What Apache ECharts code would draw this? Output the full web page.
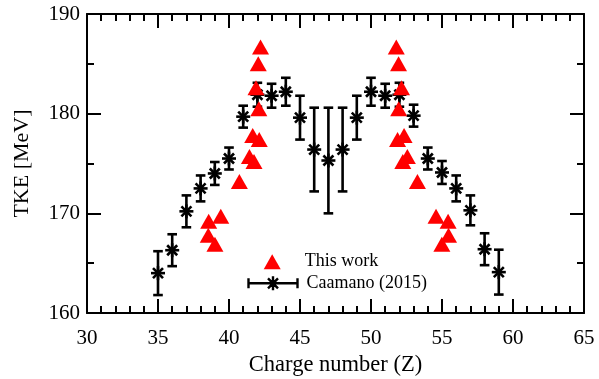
<!DOCTYPE html>
<html><head><meta charset="utf-8">
<script src="https://cdn.jsdelivr.net/npm/echarts@6/dist/echarts.min.js"></script>
<style>html,body{margin:0;padding:0;background:#fff}#c{width:599px;height:379px}</style>
</head><body><div id="c"></div>
<script>
// Caamano (2015) data: charge number, TKE and error
const caamanoZ   = [35, 36, 37, 38, 39, 40, 41, 42, 43, 44, 45, 46, 47, 48, 49, 50, 51, 52, 53, 54, 55, 56, 57, 58, 59];
const caamanoTKE = [164.0, 166.3, 170.2, 172.5, 174.0, 175.5, 179.7, 181.9, 181.8, 182.2, 179.6, 176.4, 175.3, 176.4, 179.6, 182.2, 181.8, 181.9, 179.8, 175.5, 174.1, 172.5, 170.3, 166.4, 164.1];
const caamanoErr = [2.2, 1.6, 1.6, 1.3, 1.15, 1.1, 1.1, 1.2, 1.2, 1.4, 2.2, 4.2, 5.3, 4.2, 2.2, 1.4, 1.2, 1.2, 1.1, 1.1, 1.15, 1.3, 1.5, 1.6, 2.25];

// This work
const thisWorkZ   = [42.22, 42.06, 41.9, 42.1, 41.67, 42.13, 41.44, 41.76, 40.73, 39.42, 38.57, 38.54, 39.01,
                     51.78, 51.94, 52.15, 51.95, 52.33, 51.87, 52.56, 52.24, 53.27, 54.58, 55.43, 55.46, 54.99];
const thisWorkTKE = [186.7, 185.0, 182.6, 180.5, 177.8, 177.4, 175.7, 175.2, 173.2, 169.7, 169.2, 167.8, 166.9,
                     186.7, 185.0, 182.6, 180.5, 177.8, 177.4, 175.7, 175.2, 173.2, 169.7, 169.2, 167.8, 166.9];

const seriesNames = ['This work', 'Caamano (2015)'];
const axisTitles = ['Charge number (Z)', 'TKE [MeV]'];

const FONT = '"Liberation Serif", "Times New Roman", serif';
const chart = echarts.init(document.getElementById('c'), null, {renderer: 'canvas'});

const legendStar = 'path://M0,7 L49,7 M0,2 L0,12 M49,2 L49,12 M24.5,0 L24.5,14 M17.5,7 L31.5,7 M19.5,2 L29.5,12 M29.5,2 L19.5,12';

function axisBase(extra) {
  return Object.assign({
    axisLine: {show: true, onZero: false, lineStyle: {color: '#000', width: 2}},
    axisTick: {show: true, inside: true, length: 14, lineStyle: {color: '#000', width: 2}},
    splitLine: {show: false},
    minorSplitLine: {show: false}
  }, extra);
}

const option = {
  animation: false,
  backgroundColor: '#fff',
  grid: {left: 87, right: 15, top: 14, bottom: 66, containLabel: false, outerBoundsMode: 'none'},
  xAxis: [
    axisBase({
      type: 'value', min: 30, max: 65, interval: 5, position: 'bottom',
      minorTick: {show: true, splitNumber: 5, length: 7, lineStyle: {color: '#000', width: 2}},
      axisLabel: {fontFamily: FONT, fontSize: 21, color: '#000', margin: 15},
      name: axisTitles[0], nameLocation: 'middle', nameGap: 36,
      nameTextStyle: {fontFamily: FONT, fontSize: 22.5, color: '#000'}
    }),
    axisBase({
      type: 'value', min: 30, max: 65, interval: 5, position: 'top',
      minorTick: {show: true, splitNumber: 5, length: 7, lineStyle: {color: '#000', width: 2}},
      axisLabel: {show: false}
    })
  ],
  yAxis: [
    axisBase({
      type: 'value', min: 160, max: 190, interval: 10, position: 'left',
      minorTick: {show: true, splitNumber: 2, length: 7, lineStyle: {color: '#000', width: 2}},
      axisLabel: {fontFamily: FONT, fontSize: 21, color: '#000', margin: 7},
      name: axisTitles[1], nameLocation: 'middle', nameGap: 54,
      nameTextStyle: {fontFamily: FONT, fontSize: 22, color: '#000'}
    }),
    axisBase({
      type: 'value', min: 160, max: 190, interval: 10, position: 'right',
      minorTick: {show: true, splitNumber: 2, length: 7, lineStyle: {color: '#000', width: 2}},
      axisLabel: {show: false}
    })
  ],
  legend: [
    {
      data: [{name: seriesNames[0], icon: 'triangle', itemStyle: {color: '#ff0000', borderWidth: 0}}],
      left: 263.7, top: 252.7, itemWidth: 17, itemHeight: 15, padding: 0, selectedMode: false,
      textStyle: {fontFamily: FONT, fontSize: 18, color: '#000', lineHeight: 18, padding: [0, 0, 0, 19]}
    },
    {
      data: [{name: seriesNames[1], icon: legendStar, itemStyle: {color: 'transparent', borderColor: '#000', borderWidth: 2.4}}],
      left: 247.3, top: 274.3, itemWidth: 49, itemHeight: 14, padding: 0, selectedMode: false,
      textStyle: {fontFamily: FONT, fontSize: 18, color: '#000', lineHeight: 18, padding: [0, 0, 0, 4]}
    }
  ],
  series: [
    {
      name: seriesNames[0],
      type: 'scatter',
      symbol: 'triangle',
      symbolSize: [17, 15],
      itemStyle: {color: '#ff0000', opacity: 1},
      emphasis: {disabled: true},
      data: thisWorkZ.map((z, i) => [z, thisWorkTKE[i]])
    },
    {
      name: seriesNames[1],
      type: 'custom',
      itemStyle: {color: '#000'},
      emphasis: {disabled: true},
      data: caamanoZ.map((z, i) => [z, caamanoTKE[i], caamanoErr[i]]),
      renderItem: function (params, api) {
        const x = api.value(0), y = api.value(1), e = api.value(2);
        const c = api.coord([x, y]);
        const t = api.coord([x, y + e]);
        const b = api.coord([x, y - e]);
        const cap = 4.8, r = 7, d = 5;
        const st = {stroke: '#000', lineWidth: 2.6, fill: null};
        const L = (x1, y1, x2, y2) => ({type: 'line', shape: {x1, y1, x2, y2}, style: st});
        return {
          type: 'group',
          children: [
            L(t[0], t[1], b[0], b[1]),
            L(t[0] - cap, t[1], t[0] + cap, t[1]),
            L(b[0] - cap, b[1], b[0] + cap, b[1]),
            L(c[0], c[1] - r, c[0], c[1] + r),
            L(c[0] - r, c[1], c[0] + r, c[1]),
            L(c[0] - d, c[1] - d, c[0] + d, c[1] + d),
            L(c[0] - d, c[1] + d, c[0] + d, c[1] - d)
          ]
        };
      }
    }
  ]
};
chart.setOption(option);
</script>
</body></html>
